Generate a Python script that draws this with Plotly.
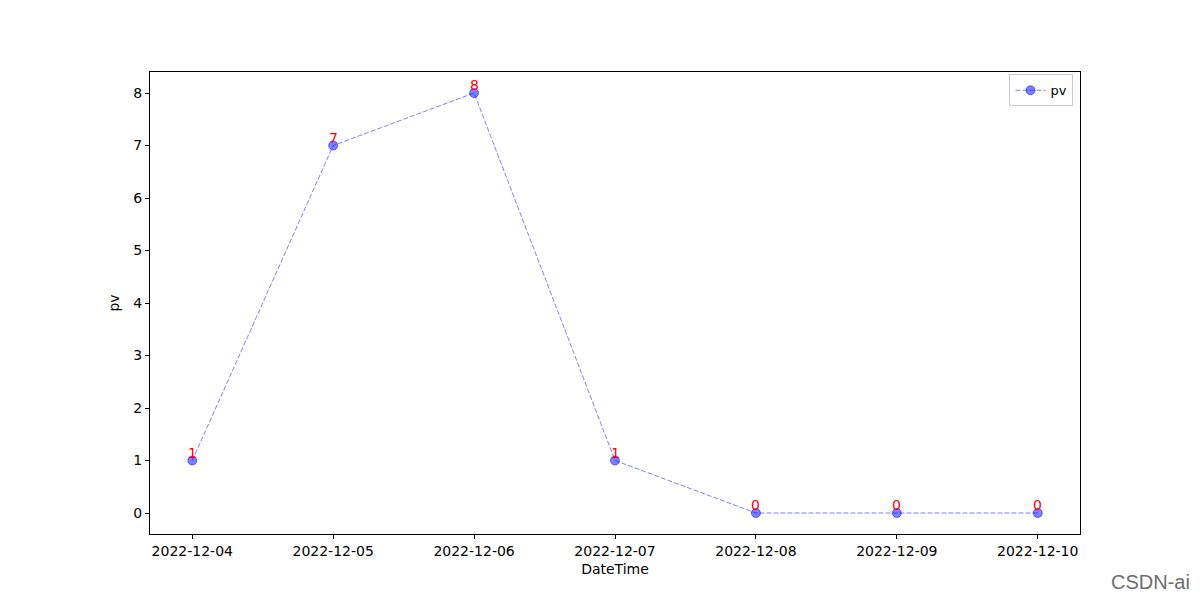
import plotly.graph_objects as go

dates = ["2022-12-04", "2022-12-05", "2022-12-06", "2022-12-07", "2022-12-08", "2022-12-09", "2022-12-10"]
pv = [1, 7, 8, 1, 0, 0, 0]

fig = go.Figure()
fig.add_trace(go.Scatter(
    x=dates, y=pv, mode="lines+markers", name="pv",
    line=dict(color="rgba(0,0,255,0.5)", width=1, dash="5px,2px"),
    marker=dict(color="rgba(0,0,255,0.5)", size=9, line=dict(width=1, color="rgba(0,0,255,0.5)")),
))
for d, v in zip(dates, pv):
    fig.add_annotation(x=d, y=v, text=str(v), showarrow=False, yanchor="bottom", yshift=-2,
                       font=dict(color="red", size=14, family="DejaVu Sans"))

fig.add_annotation(xref="paper", yref="paper", x=1.1204, y=-0.104, xanchor="right", yanchor="middle",
                   text="CSDN-ai", showarrow=False, font=dict(color="#6e6e6e", size=20, family="Liberation Sans"))

axis_common = dict(showline=True, linecolor="black", linewidth=1, mirror=True, ticks="outside",
                   ticklen=4, tickcolor="black", showgrid=False, zeroline=False,
                   tickfont=dict(family="DejaVu Sans", size=14, color="black"))
fig.update_layout(
    width=1192, height=592,
    margin=dict(l=142, r=120, t=64, b=66),
    plot_bgcolor="white", paper_bgcolor="white",
    font=dict(family="DejaVu Sans", size=14, color="black"),
    xaxis=dict(title=dict(text="DateTime", standoff=6, font=dict(size=14, family="DejaVu Sans")), type="date",
               range=["2022-12-03 16:48", "2022-12-10 07:12"],
               tickvals=dates, ticktext=dates, **axis_common),
    yaxis=dict(title=dict(text="pv", standoff=10, font=dict(size=14, family="DejaVu Sans")),
               range=[-0.4, 8.4], tickvals=list(range(9)), **axis_common),
    showlegend=True,
    legend=dict(x=0.993, y=0.995, xanchor="right", yanchor="top", bordercolor="#cccccc", borderwidth=1,
                bgcolor="white", font=dict(size=13, family="DejaVu Sans"), itemwidth=30,
                tracegroupgap=0),
)
fig.write_html("out.html")
